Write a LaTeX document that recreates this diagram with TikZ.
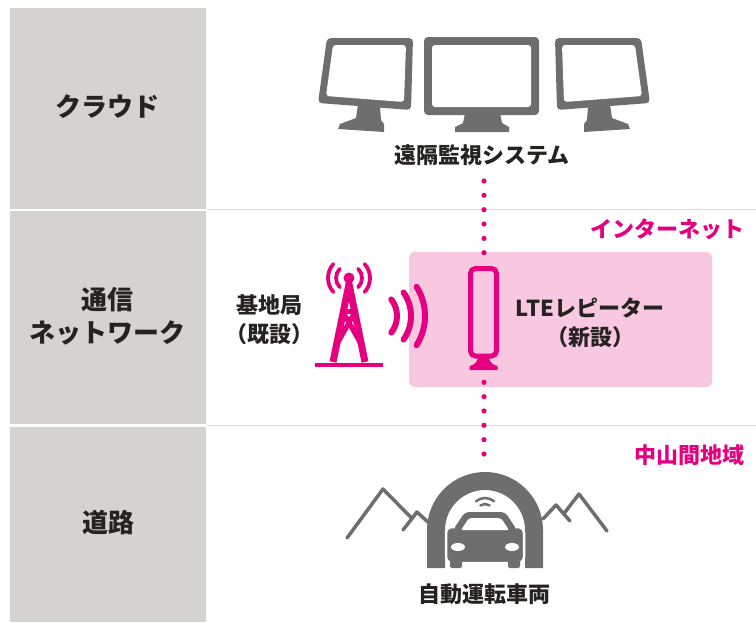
\documentclass[tikz,border=0pt]{standalone}
\usepackage{fontspec}
\newfontfamily\jp{Noto Sans CJK JP}
\definecolor{colbg}{HTML}{D5D3D2}
\definecolor{divline}{HTML}{DCDCDC}
\definecolor{mag}{HTML}{E4007F}
\definecolor{pinkbox}{HTML}{F8C8E0}
\definecolor{icon}{HTML}{6E6E6E}
\definecolor{ink}{HTML}{262222}
\tikzset{
  monitorL/.pic={
    \fill[icon, rounded corners=4] (327,38) -- (413,38) -- (411,110) -- (318,103) -- cycle;
    \fill[white, rounded corners=3] (333,45) -- (406,45) -- (404,102) -- (326,96) -- cycle;
    \fill[icon] (358,104) -- (380,106) -- (381,120) -- (384,124) -- (384,132) -- (338,129) -- (340,124) -- (356,118) -- cycle;
  }
}
\begin{document}
\begin{tikzpicture}[x=1pt,y=-1pt,
  lbl/.style={font=\jp\bfseries\fontsize{26}{33}\selectfont, text=ink, align=center, inner sep=0pt},
  txt/.style={font=\jp\bfseries\fontsize{22}{29}\selectfont, text=ink, align=center, inner sep=0pt},
  magtxt/.style={font=\jp\bfseries\fontsize{22}{29}\selectfont, text=mag, inner sep=0pt, anchor=east},
  dotline/.style={mag, line width=5.2pt, line cap=round, dash pattern=on 0pt off 14.34pt},
  wave/.style={mag, line width=6pt, line cap=round},
  ant/.style={mag, line width=3.8pt, line cap=round},
  mtn/.style={icon, line width=3.5pt, line join=round, line cap=round}
]
\useasboundingbox (0,0) rectangle (756,622);

% category column
\fill[colbg] (10,8) rectangle (206,208.5);
\fill[colbg] (10,211) rectangle (206,424);
\fill[colbg] (10,427) rectangle (206,622);
\draw[divline, line width=1.5pt] (207,209.7) -- (756,209.7);
\draw[divline, line width=1.5pt] (207,425.7) -- (756,425.7);

\node[lbl] (cloud) at (108,107) {クラウド};
\node[lbl] (network) at (108,316) {通信\\ネットワーク};
\node[lbl] (road) at (108,523) {道路};

% monitoring system: three displays
\pic at (0,0) {monitorL};
\pic[xscale=-1] at (968,0) {monitorL};
\fill[icon, rounded corners=4] (424,37) rectangle (539,115);
\fill[white, rounded corners=3] (432,45) rectangle (531,107);
\fill[icon] (465,113) -- (500,113) -- (502,123) -- (509,127) -- (509,132) -- (455,132) -- (455,127) -- (463,123) -- cycle;
\node[txt] (sys) at (482,155) {遠隔監視システム};

% internet area
\node[magtxt] (inet) at (745,229) {インターネット};
\fill[pinkbox, rounded corners=6] (409,252) rectangle (712,387);

% base station
\fill[mag] (349,278) circle[radius=5.5];
\draw[ant] (349,278) ++(135:13) arc[start angle=135, end angle=225, radius=13];
\draw[ant] (349,278) ++(-45:13) arc[start angle=-45, end angle=45, radius=13];
\draw[ant] (349,278) ++(138:21) arc[start angle=138, end angle=222, radius=21];
\draw[ant] (349,278) ++(-42:21) arc[start angle=-42, end angle=42, radius=21];
\draw[mag, line width=7pt, line join=round] (333,362) -- (349,284) -- (365,362);
\draw[mag, line width=5pt] (342.5,311) -- (355.5,311);
\draw[mag, line width=5pt] (342.5,311) -- (361,344) (355.5,311) -- (337,344);
\draw[mag, line width=4pt] (315,365) -- (383,365);
\node[txt] (bs) at (269,319.5) {基地局\\（既設）};

% radio waves
\draw[wave] (370,316) ++(-38:27) arc[start angle=-38, end angle=38, radius=27];
\draw[wave] (370,316) ++(-35:41) arc[start angle=-35, end angle=35, radius=41];
\draw[wave] (370,316) ++(-32:55) arc[start angle=-32, end angle=32, radius=55];

% LTE repeater
\draw[mag, line width=5pt, rounded corners=5] (470.5,268.5) rectangle (496.5,356);
\fill[mag] (478,357) -- (489,357) .. controls (490,364) and (494,365) .. (497.5,366) -- (497.5,370) -- (469.5,370) -- (469.5,366) .. controls (473,365) and (477,364) .. (478,357) -- cycle;
\coordinate (reptop) at (484,254.2);
\coordinate (repbot) at (484,382.3);
\node[txt] (rep) at (590,322.5) {LTEレピーター\\（新設）};

% links
\coordinate (systail) at (484,181);
\coordinate (cartop) at (484,454);
\draw[dotline] (systail) -- (reptop);
\draw[dotline] (repbot) -- (cartop);

% mountainous area
\node[magtxt] (area) at (745,455) {中山間地域};

\draw[mtn] (347,538) -- (383,489) -- (412,518.5);
\draw[mtn] (403,530) -- (417,512) -- (430,524);
\draw[mtn] (543,519) -- (556,505) -- (570,521);
\draw[mtn] (564,513.5) -- (579,494) -- (607,531);

% tunnel
\draw[icon, line width=18pt] (436,568) -- (436,530) arc[start angle=180, end angle=360, radius=49] -- (534,568);

% car
\begin{scope}
  \path[draw=white, line width=3pt, fill=icon, rounded corners=3]
    (465,512) -- (505,512) -- (517,529) -- (453,529) -- cycle;
  \fill[icon, rounded corners=3] (441,531) rectangle (449,538);
  \fill[icon, rounded corners=3] (521,531) rectangle (529,538);
  \path[draw=white, line width=2.5pt, fill=icon, rounded corners=6] (446,527) rectangle (524,563);
  \fill[icon, rounded corners=4] (465,512) -- (505,512) -- (517,530) -- (453,530) -- cycle;
  \fill[icon, rounded corners=2] (450,558) rectangle (462,568);
  \fill[icon, rounded corners=2] (508,558) rectangle (520,568);
  \fill[white, rounded corners=2] (469,518) -- (501,518) -- (509,530) -- (461,530) -- cycle;
  \fill[white] (458,547) ellipse[x radius=7, y radius=4];
  \fill[white] (512,547) ellipse[x radius=7, y radius=4];
\end{scope}
\draw[icon, line width=2.5pt, line cap=round] (485,512) ++(235:8) arc[start angle=235, end angle=305, radius=8];
\draw[icon, line width=2.5pt, line cap=round] (485,512) ++(230:14) arc[start angle=230, end angle=310, radius=14];

\node[txt] (car) at (484,594) {自動運転車両};
\end{tikzpicture}
\end{document}
